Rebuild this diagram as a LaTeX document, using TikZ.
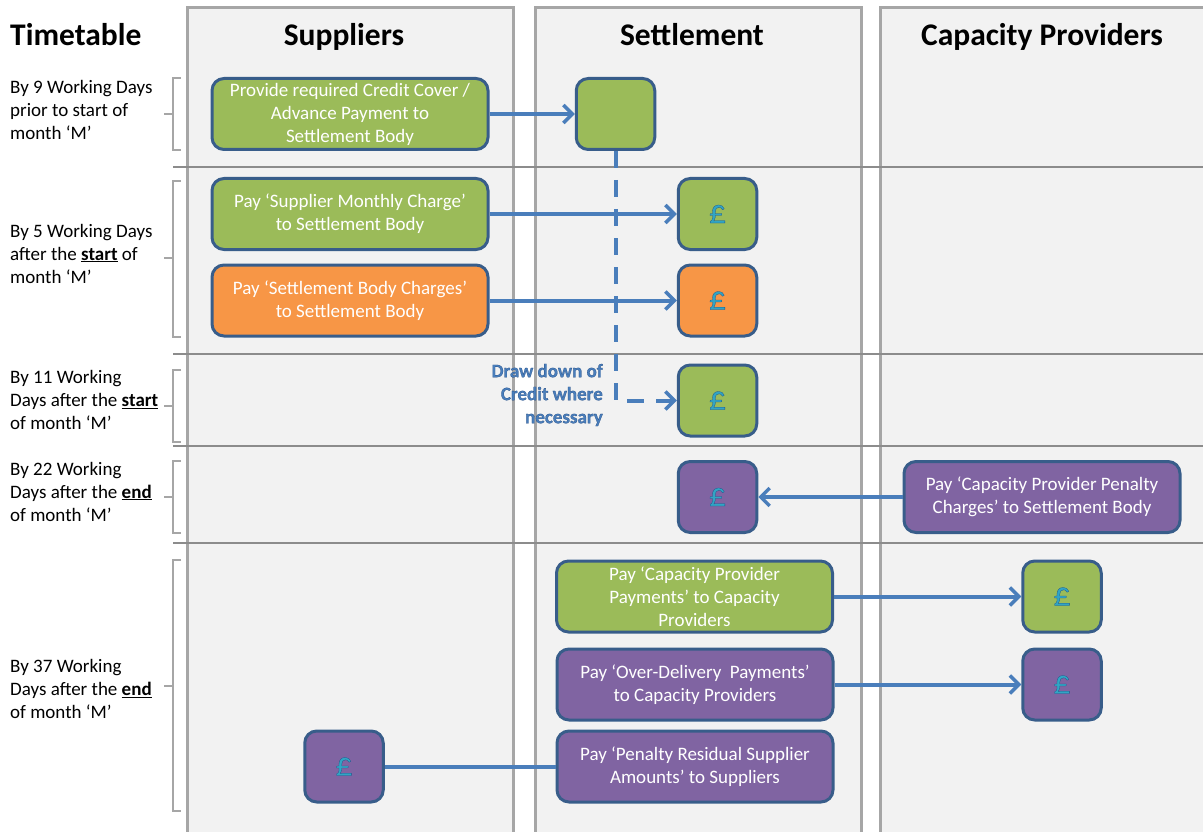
\documentclass[tikz,border=0pt]{standalone}
\usepackage{fontspec}
\setmainfont{Carlito}
\newfontfamily\poundfont[FakeBold=0.8]{Carlito}
\newfontfamily\glowfont[BoldFeatures={FakeBold=0.8}]{Carlito}
\usetikzlibrary{arrows.meta}
\definecolor{panelfill}{HTML}{F2F2F2}
\definecolor{panelline}{HTML}{A6A6A6}
\definecolor{rowline}{HTML}{8C8C8C}
\definecolor{boxline}{HTML}{385D8A}
\definecolor{flow}{HTML}{4A7EBB}
\definecolor{green1}{HTML}{9BBB59}
\definecolor{orange1}{HTML}{F79646}
\definecolor{purple1}{HTML}{8064A2}
\definecolor{poundc}{HTML}{31A5C4}
\newcommand{\pnd}{{\color{poundc}\special{pdf:code 0.12 0.32 0.54 RG}\poundfont\fontsize{34}{34}\selectfont £}}
\newcommand{\glow}{\color{flow}\special{pdf:code 0.1 0.25 0.47 RG}\glowfont\bfseries}
\tikzset{
  x=1pt,y=-1pt,
  flowbox/.style={draw=boxline,line width=3pt,rounded corners=12pt,inner sep=0pt,text=white,align=center,
    font=\fontsize{19}{23}\selectfont},
  widebox/.style={flowbox,minimum width=276pt,minimum height=71pt,execute at begin node={\rule{0pt}{19pt}}},
  smallbox/.style={flowbox,minimum width=78.5pt,minimum height=71pt},
  head/.style={anchor=base,font=\fontsize{31.5}{34}\selectfont\bfseries,text=black,inner sep=0pt},
  rowtext/.style={anchor=west,align=left,inner sep=0pt,font=\fontsize{19}{23}\selectfont,text=black},
  panel/.style={fill=panelfill,draw=none},
  panelrule/.style={draw=panelline,line width=3pt},
  rowrule/.style={draw=rowline,line width=2pt},
  bracket/.style={draw=panelline,line width=1.5pt},
  link/.style={draw=flow,line width=4pt},
  flowarrow/.style={link,-{Straight Barb[length=9pt,width=18pt,line width=3.5pt]}},
}
\newcommand{\brk}[3]{\draw[bracket] (181,#1) -- (173,#1) -- (173,#2) -- (181,#2) (164,#3) -- (173,#3);}
\begin{document}
\begin{tikzpicture}
\useasboundingbox (0,0) rectangle (1203,832);
% panels
\fill[panel] (187,8) rectangle (513,832);
\fill[panel] (535,8) rectangle (861,832);
\fill[panel] (880,8) rectangle (1203,832);
\draw[panelrule] (187,832) -- (187,8) -- (513,8) -- (513,832);
\draw[panelrule] (535,832) -- (535,8) -- (861,8) -- (861,832);
\draw[panelrule] (880,832) -- (880,8) -- (1203,8);
% row rules
\foreach \y in {167,354,446,543} \draw[rowrule] (173,\y) -- (1203,\y);
% brackets
\brk{78}{150}{114}
\brk{181}{337}{258}
\brk{370}{442}{406}
\brk{461}{533}{497}
\brk{560}{811}{686}
% headers
\node[head,anchor=base west] (timetable) at (10,46) {Timetable};
\node[head] (suppliers) at (344,46) {Suppliers};
\node[head] (settlement) at (692,46) {Settlement};
\node[head] (capacity) at (1042,46) {Capacity Providers};
% row labels
\node[rowtext] (r1) at (10,109.5) {By 9 Working Days\\prior to start of\\month ‘M’};
\node[rowtext] (r2) at (10,253.5) {By 5 Working Days\\after the \underline{\textbf{start}} of\\month ‘M’};
\node[rowtext] (r3) at (10,400) {By 11 Working\\Days after the \underline{\textbf{start}}\\of month ‘M’};
\node[rowtext] (r4) at (10,491.5) {By 22 Working\\Days after the \underline{\textbf{end}}\\of month ‘M’};
\node[rowtext] (r5) at (10,689) {By 37 Working\\Days after the \underline{\textbf{end}}\\of month ‘M’};
% boxes
\node[widebox,fill=green1] (a) at (350,114) {Provide required Credit Cover /\\Advance Payment to\\Settlement Body};
\node[smallbox,fill=green1] (b) at (615.5,114) {};
\node[widebox,fill=green1] (c) at (350,214) {Pay ‘Supplier Monthly Charge’\\to Settlement Body};
\node[smallbox,fill=green1] (d) at (717.5,214) {\pnd};
\node[widebox,fill=orange1] (e) at (350,300.5) {Pay ‘Settlement Body Charges’\\to Settlement Body};
\node[smallbox,fill=orange1] (f) at (717.5,300.5) {\pnd};
\node[smallbox,fill=green1] (g) at (717.5,400.5) {\pnd};
\node[smallbox,fill=purple1] (h) at (717.5,497) {\pnd};
\node[widebox,fill=purple1] (i) at (1042,497) {Pay ‘Capacity Provider Penalty\\Charges’ to Settlement Body};
\node[widebox,fill=green1] (j) at (694.5,596.5) {Pay ‘Capacity Provider\\Payments’ to Capacity\\Providers};
\node[smallbox,fill=green1] (k) at (1062,596.5) {\pnd};
\node[widebox,fill=purple1] (l) at (695,684.5) {Pay ‘Over-Delivery\ \ Payments’\\to Capacity Providers};
\node[smallbox,fill=purple1] (m) at (1062,684.5) {\pnd};
\node[smallbox,fill=purple1] (n) at (344,766.5) {\pnd};
\node[widebox,fill=purple1] (o) at (695,766.5) {Pay ‘Penalty Residual Supplier\\Amounts’ to Suppliers};
% connectors
\draw[flowarrow] (a) -- (b);
\draw[flowarrow] (c) -- (d);
\draw[flowarrow] (e) -- (f);
\draw[flowarrow] (i) -- (h);
\draw[flowarrow] (j) -- (k);
\draw[flowarrow] (l) -- (m);
\draw[link] (o) -- (n);
\draw[flowarrow,dash pattern=on 17pt off 12pt] (b.south) |- (g.west);
% dashed label
\node[anchor=east,align=right,inner sep=0pt,font=\fontsize{19}{23}\selectfont] (draw) at (603,395)
  {\glow Draw down of\\\glow Credit where\\\glow necessary};
\end{tikzpicture}
\end{document}
